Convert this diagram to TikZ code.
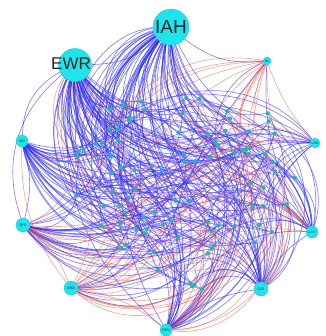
\documentclass[tikz,border=0pt]{standalone}
\usepackage{fontspec}
\setmainfont{Liberation Sans}
\usetikzlibrary{backgrounds}
\definecolor{hubfill}{RGB}{30,228,236}
\definecolor{hubline}{RGB}{20,195,205}
\definecolor{smfill}{RGB}{45,175,180}
\definecolor{eblue}{RGB}{40,40,245}
\definecolor{ered}{RGB}{236,80,60}
\definecolor{eviolet}{RGB}{120,70,230}
\tikzset{
  hub/.style={circle, fill=hubfill, draw=hubline, line width=0.3pt, inner sep=0pt, text=black!85},
  smallnode/.style={circle, fill=smfill, inner sep=0pt, minimum size=4.4pt},
  eb/.style={eblue, opacity=0.55, line width=0.7pt},
  er/.style={ered, opacity=0.5, line width=0.65pt},
  ev/.style={eviolet, opacity=0.45, line width=0.5pt},
  tinylabel/.style={font=\fontsize{3.5}{4}\selectfont},
}
% fan of curved routes from one hub to a random share of the small airports
% #1 hub, #2 share of targets, #3 share drawn red, #4 base bend, #5 bend spread
\newcommand\fanedges[5]{%
  \foreach \i in {1,...,90}{%
    \pgfmathsetmacro\pu{rnd}%
    \pgfmathsetmacro\pv{rnd}%
    \pgfmathsetmacro\pb{#4+#5*rnd}%
    \ifdim\pu pt<#2pt
      \ifdim\pv pt<#3pt
        \draw[er] (#1) to[bend right=\pb] (s\i);
      \else
        \draw[eb] (#1) to[bend right=\pb] (s\i);
      \fi
    \fi
  }}
\begin{document}
\begin{tikzpicture}[x=1pt,y=-1pt]
\useasboundingbox (0,0) rectangle (325,336);
\pgfmathsetseed{4217}

% small airports scattered in the middle
\foreach \i in {1,...,90}{%
  \pgfmathsetmacro\ang{360*rnd}%
  \pgfmathsetmacro\rad{110*sqrt(rnd)}%
  \node[smallnode] (s\i) at ({184+1.02*\rad*cos(\ang)},{186+\rad*sin(\ang)}) {};
}

% hubs around the ring
\node[hub, minimum size=36pt, font=\fontsize{19}{19}\selectfont] (iah) at (171,27) {IAH};
\node[hub, minimum size=33pt] (ewr) at (75,65) {};
\node[font=\fontsize{17}{17}\selectfont, text=black!85] (ewrlab) at (71,64) {EWR};
\node[hub, minimum size=8pt, tinylabel] (n1) at (267,61) {IN};
\node[hub, minimum size=10pt, tinylabel] (n2) at (315,143) {LAS};
\node[hub, minimum size=12pt, tinylabel] (lax) at (312,232) {LAX};
\node[hub, minimum size=14pt, tinylabel] (cle) at (261,289) {CLE};
\node[hub, minimum size=12pt, tinylabel] (den) at (166,330) {DEN};
\node[hub, minimum size=14pt, tinylabel] (ord) at (71,288) {ORD};
\node[hub, minimum size=14pt, tinylabel] (sfo) at (23,225) {SFO};
\node[hub, minimum size=12pt, tinylabel] (iad) at (22,141) {IAD};

\begin{pgfonlayer}{background}
  \fanedges{iah}{0.80}{0.03}{20}{35}
  \fanedges{ewr}{0.75}{0.05}{20}{30}
  \fanedges{iad}{0.40}{0.18}{25}{30}
  \fanedges{sfo}{0.42}{0.28}{25}{30}
  \fanedges{ord}{0.30}{0.60}{25}{30}
  \fanedges{den}{0.34}{0.30}{25}{30}
  \fanedges{cle}{0.40}{0.18}{25}{30}
  \fanedges{lax}{0.32}{0.45}{20}{30}
  \fanedges{n2}{0.20}{0.25}{20}{30}
  \fanedges{n1}{0.18}{0.85}{10}{25}
  % routes among the small airports
  \foreach \k in {1,...,45}{%
    \pgfmathtruncatemacro\pa{random(1,90)}%
    \pgfmathtruncatemacro\pc{random(1,90)}%
    \ifnum\pa=\pc\else
      \draw[ev] (s\pa) to[bend right=25] (s\pc);
    \fi
  }
  % routes between hubs
  \draw[eb] (iah) to[bend right=22] (n1);
  \draw[eb] (iah) to[bend right=38] (n2);
  \draw[eb] (n1) to[bend right=18] (lax);
  \draw[eb] (n2) to[bend right=30] (cle);
  \draw[er] (n1) to[bend right=10] (n2);
  \draw[eb] (lax) to[bend right=15] (cle);
  \draw[eb] (cle) to[bend right=15] (den);
  \draw[er] (den) to[bend right=15] (ord);
  \draw[er] (ord) to[bend right=15] (sfo);
  \draw[eb] (sfo) to[bend right=15] (iad);
  \draw[eb] (ewr) to[bend right=30] (iad);
  \draw[eb] (ewr) to[bend right=35] (sfo);
  \draw[eb] (ewr) to[bend right=20] (iah);
  \draw[eb] (iah) to[bend right=30] (den);
  \draw[eb] (iah) to[bend right=25] (cle);
  \draw[eb] (ewr) to[bend right=30] (den);
  \draw[er] (iad) to[bend right=20] (ord);
  \draw[er] (lax) to[bend right=20] (ord);
\end{pgfonlayer}
\end{tikzpicture}
\end{document}
